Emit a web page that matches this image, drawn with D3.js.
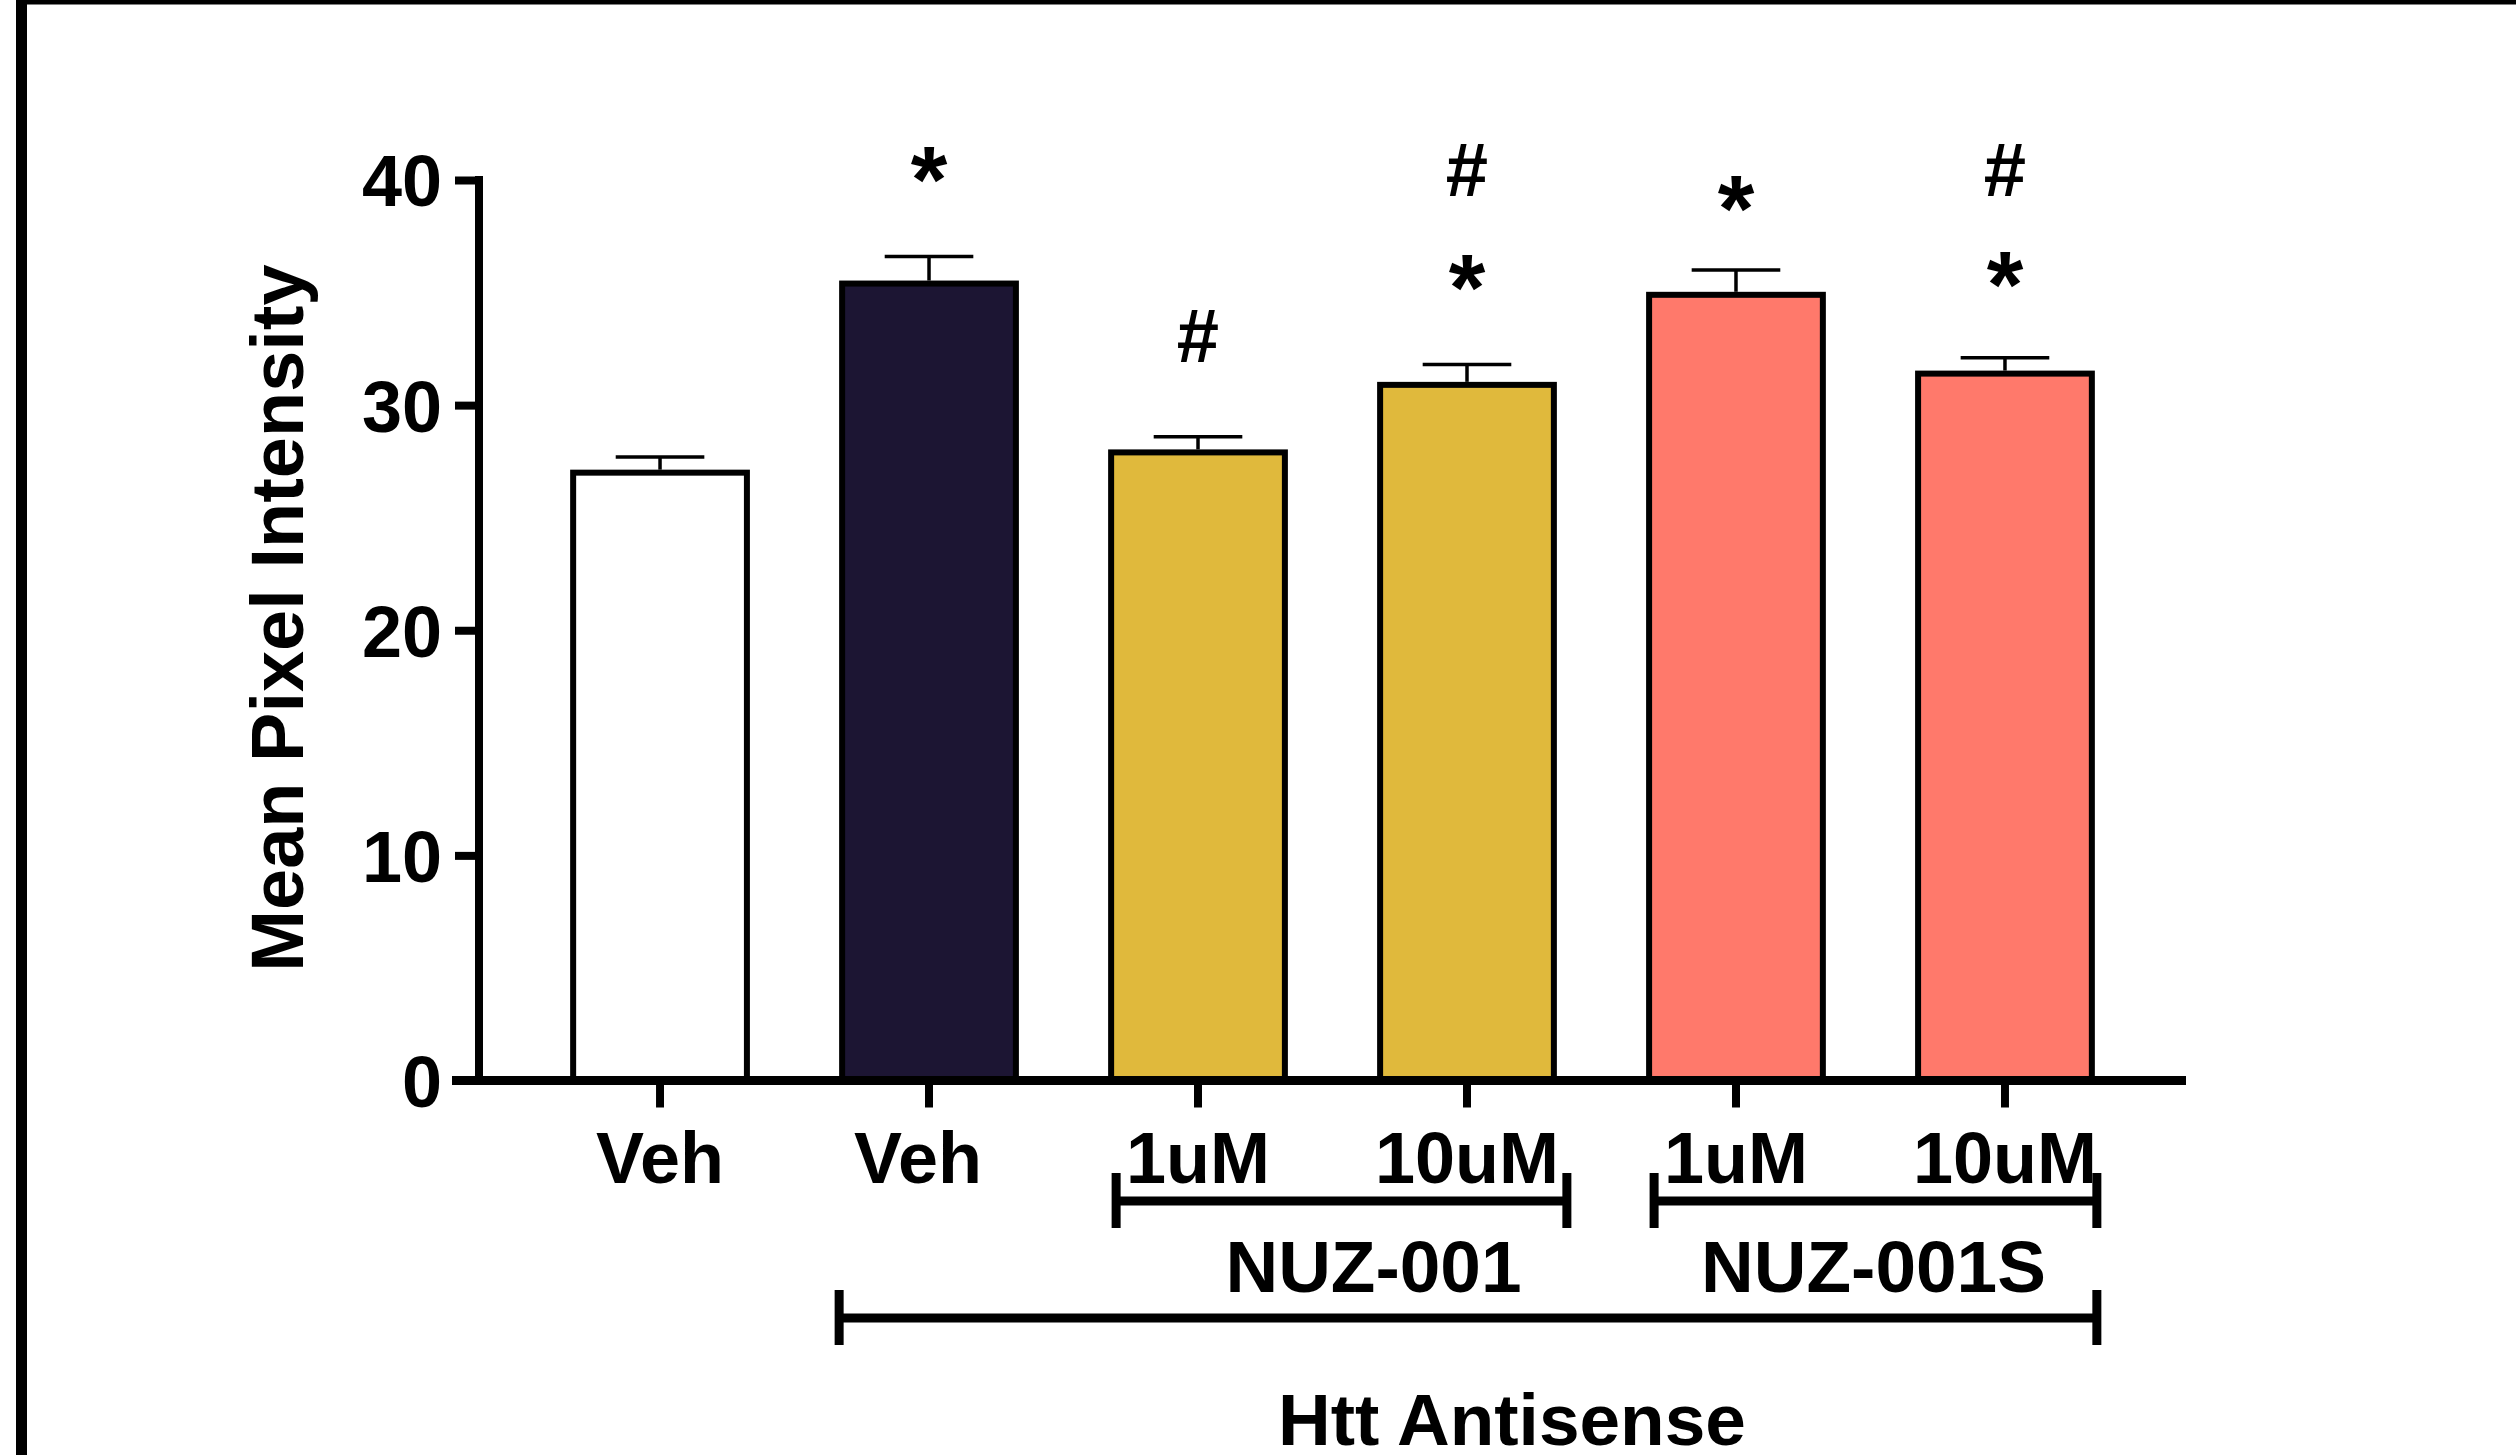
<!DOCTYPE html>
<html>
<head>
<meta charset="utf-8">
<script src="https://cdn.jsdelivr.net/npm/d3@7"></script>
<style>
  body { margin: 0; background: #fff; }
  text { font-family: "Liberation Sans", Arial, sans-serif; font-weight: bold; fill: #000; }
</style>
</head>
<body>
<div id="chart"></div>
<script>
// data
const groups = ["veh0", "veh1", "nuz1", "nuz10", "nuzs1", "nuzs10"];
const groupLabels = ["Veh", "Veh", "1uM", "10uM", "1uM", "10uM"];
const means = [27.0, 35.4, 27.9, 30.9, 34.9, 31.4];
const sems = [0.7, 1.2, 0.7, 0.9, 1.1, 0.7];
const fills = ["#ffffff", "#1c1533", "#e0b93c", "#e0b93c", "#ff796b", "#ff796b"];
const yTicks = [0, 10, 20, 30, 40];

// significance marks (level in axis units where the mark sits)
const stars = [null, 38.6, null, 33.8, 37.3, 33.9];
const hashes = [null, null, 31.9, 39.3, null, 39.3];

// group brackets under the axis
const brackets = [
  { label: "NUZ-001", from: 2, to: 3 },
  { label: "NUZ-001S", from: 4, to: 5 },
  { label: "Htt Antisense", from: 1, to: 5 }
];

const width = 2516;
const height = 1455;

const svg = d3.select("#chart")
  .append("svg")
  .attr("width", width)
  .attr("height", height);

// frame round the figure
svg.append("rect").attr("x", 16).attr("y", 0).attr("width", 11).attr("height", height).attr("fill", "#000");
svg.append("rect").attr("x", 16).attr("y", 0).attr("width", width - 16).attr("height", 4.5).attr("fill", "#000");

const axisX = 479;
const x = d3.scaleBand()
  .domain(groups)
  .range([axisX, 2186])
  .paddingInner(0.354)
  .paddingOuter(0.35);

const y = d3.scaleLinear()
  .domain([0, 40])
  .range([1080.5, 180]);

const bw = x.bandwidth();

// bars
svg.append("g")
  .selectAll("rect")
  .data(groups)
  .enter()
  .append("rect")
  .attr("x", d => x(d))
  .attr("y", (d, i) => y(means[i]))
  .attr("width", bw)
  .attr("height", (d, i) => y(0) - y(means[i]))
  .attr("fill", (d, i) => fills[i])
  .attr("stroke", "#000")
  .attr("stroke-width", 6);

// error bars (upper only)
const err = svg.append("g").attr("stroke", "#000").attr("stroke-width", 3.5);
groups.forEach((g, i) => {
  const cx = x(g) + bw / 2;
  err.append("line")
    .attr("x1", cx).attr("x2", cx)
    .attr("y1", y(means[i]) - 3).attr("y2", y(means[i] + sems[i]));
  err.append("line")
    .attr("x1", cx - bw * 0.255).attr("x2", cx + bw * 0.255)
    .attr("y1", y(means[i] + sems[i])).attr("y2", y(means[i] + sems[i]));
});

// y axis
const yAxis = svg.append("g")
  .attr("transform", "translate(" + axisX + ",0)")
  .call(d3.axisLeft(y).tickValues(yTicks).tickSize(24).tickSizeOuter(0).tickPadding(13));
yAxis.select(".domain").attr("stroke-width", 8).attr("d", "M0," + (y(40) - 4) + "V" + y(0));
yAxis.selectAll(".tick line").attr("stroke-width", 8);
yAxis.selectAll(".tick text").attr("font-size", 72).attr("dy", "0.36em");

// x axis
const labelDx = [0, -11, 0, 0, 0, 0];
const xAxis = svg.append("g")
  .attr("transform", "translate(0," + y(0) + ")")
  .call(d3.axisBottom(x).tickSize(27).tickSizeOuter(0).tickPadding(0).tickFormat((d, i) => groupLabels[i]));
xAxis.select(".domain").attr("stroke-width", 9).attr("d", "M" + (axisX - 27) + ",0H2186");
xAxis.selectAll(".tick line").attr("stroke-width", 8);
xAxis.selectAll(".tick text")
  .attr("font-size", 72)
  .attr("dy", 0)
  .attr("dx", (d, i) => labelDx[i])
  .attr("y", 1183 - y(0));

// significance marks
const marks = svg.append("g").attr("text-anchor", "middle");
groups.forEach((g, i) => {
  const cx = x(g) + bw / 2;
  if (stars[i] !== null) marks.append("text").attr("x", cx).attr("y", y(stars[i])).attr("font-size", 94).text("*");
  if (hashes[i] !== null) marks.append("text").attr("x", cx).attr("y", y(hashes[i])).attr("font-size", 76).text("#");
});

// brackets
const bracketRows = [1201, 1201, 1318];
const labelRows = [1292, 1292, 1445];
const labelShift = [32, -2, 44];
const endShift = [[5, 13], [5, 5], [-3, 5]];
const bg = svg.append("g");
brackets.forEach((b, i) => {
  const x0 = x(groups[b.from]) + endShift[i][0];
  const x1 = x(groups[b.to]) + bw + endShift[i][1];
  const yy = bracketRows[i];
  bg.append("path")
    .attr("d", "M" + x0 + "," + (yy - 28) + "V" + (yy + 27) +
               "M" + x0 + "," + yy + "H" + x1 +
               "M" + x1 + "," + (yy - 28) + "V" + (yy + 27))
    .attr("fill", "none")
    .attr("stroke", "#000")
    .attr("stroke-width", 9);
  bg.append("text")
    .attr("x", (x0 + x1) / 2 + labelShift[i])
    .attr("y", labelRows[i])
    .attr("text-anchor", "middle")
    .attr("font-size", 73)
    .text(b.label);
});

// y axis title
svg.append("text")
  .attr("transform", "translate(303,618) rotate(-90)")
  .attr("text-anchor", "middle")
  .attr("font-size", 74)
  .text("Mean Pixel Intensity");
</script>
</body>
</html>
